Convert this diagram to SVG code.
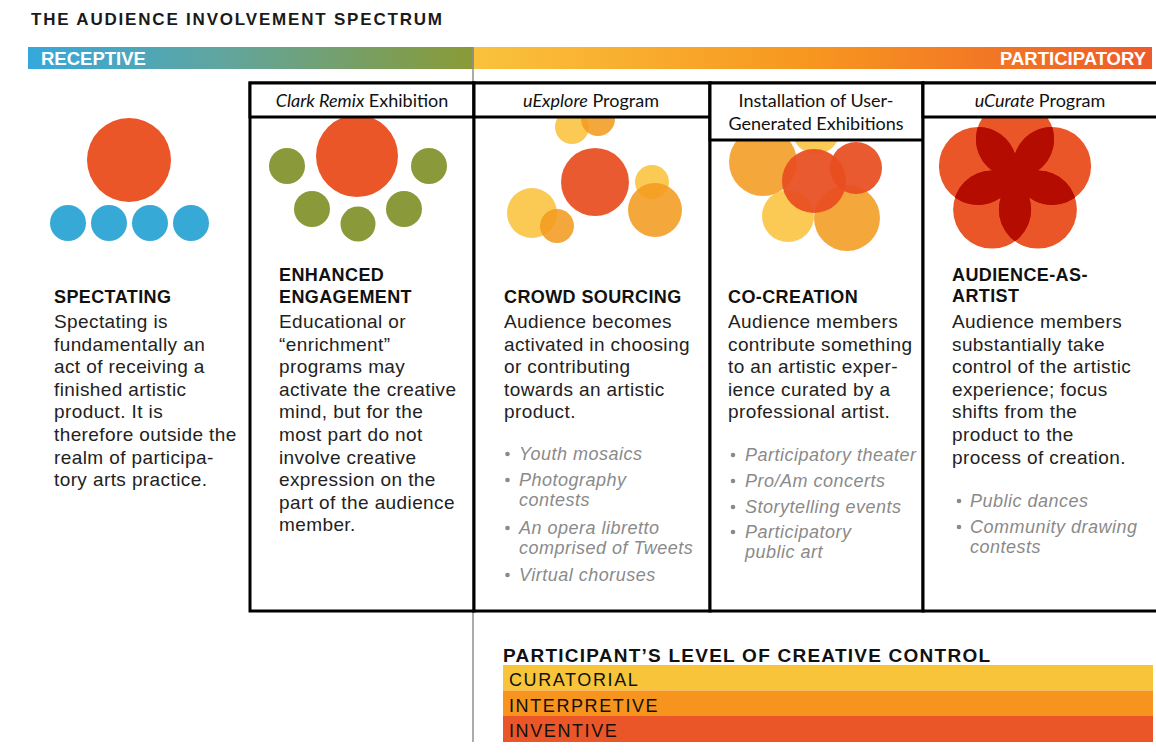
<svg xmlns="http://www.w3.org/2000/svg" width="1156" height="755" viewBox="0 0 1156 755">
<style>
.box{fill:#fff;stroke:#000;stroke-width:3}
.hdr{font-family:Lato,"Open Sans","Liberation Sans",sans-serif;font-size:18px;fill:#111;text-anchor:middle}
.h{font-family:"Liberation Sans",Arial,sans-serif;font-size:18px;font-weight:bold;fill:#111;letter-spacing:0.4px}
.b{font-family:"Liberation Sans",Arial,sans-serif;font-size:19px;fill:#222;letter-spacing:0.4px}
.bl{font-family:"Liberation Sans",Arial,sans-serif;font-size:18px;font-style:italic;fill:#8a8a8a;letter-spacing:0.5px}
.dot{fill:#8a8a8a}
.bar{font-family:"Liberation Sans",Arial,sans-serif;font-size:18.5px;font-weight:bold;fill:#fff}
.lvl{font-family:"Liberation Sans",Arial,sans-serif;font-size:18px;fill:#111;letter-spacing:1.6px}
.y{fill:#F9C33D;opacity:0.88}
.o{fill:#F29B20;opacity:0.88}
.r{fill:#E84E20;opacity:0.93}
</style>
<defs>
<linearGradient id="gL" x1="0" y1="0" x2="1" y2="0">
<stop offset="0" stop-color="#35A8DC"/>
<stop offset="0.45" stop-color="#62A59C"/>
<stop offset="1" stop-color="#8A9A35"/>
</linearGradient>
<linearGradient id="gR" x1="0" y1="0" x2="1" y2="0">
<stop offset="0" stop-color="#FAC23C"/>
<stop offset="0.5" stop-color="#F7961F"/>
<stop offset="1" stop-color="#EE5A2A"/>
</linearGradient>
<circle id="f0" cx="1015" cy="139" r="39"/>
<circle id="f1" cx="1052.1" cy="166" r="39"/>
<circle id="f2" cx="1037.9" cy="209.6" r="39"/>
<circle id="f3" cx="992.1" cy="209.6" r="39"/>
<circle id="f4" cx="977.9" cy="166" r="39"/>
<clipPath id="c0"><use href="#f1"/><use href="#f2"/><use href="#f3"/><use href="#f4"/></clipPath>
<clipPath id="c1"><use href="#f0"/><use href="#f2"/><use href="#f3"/><use href="#f4"/></clipPath>
<clipPath id="c2"><use href="#f0"/><use href="#f1"/><use href="#f3"/><use href="#f4"/></clipPath>
<clipPath id="c3"><use href="#f0"/><use href="#f1"/><use href="#f2"/><use href="#f4"/></clipPath>
<clipPath id="c4"><use href="#f0"/><use href="#f1"/><use href="#f2"/><use href="#f3"/></clipPath>
</defs>
<rect width="1156" height="755" fill="#fff"/>

<g id="title">
<text x="31" y="25" font-family="Liberation Sans, Arial, sans-serif" font-size="17" font-weight="bold" fill="#1a1a1a" textLength="411" lengthAdjust="spacing">THE AUDIENCE INVOLVEMENT SPECTRUM</text>
</g>

<g id="spectrum-bar">
<rect x="28" y="47" width="446" height="22" fill="url(#gL)"/>
<rect x="474" y="47" width="678" height="22" fill="url(#gR)"/>
<text class="bar" x="41" y="65">RECEPTIVE</text>
<text class="bar" x="1146" y="65" text-anchor="end">PARTICIPATORY</text>
</g>

<g id="connectors">
<line x1="473" y1="47" x2="473" y2="742" stroke="#8f8f8f" stroke-width="1.5"/>
</g>

<g id="spectating">
<circle cx="129" cy="160" r="42" fill="#EB5628"/>
<circle cx="68" cy="223" r="18" fill="#36A9D7"/>
<circle cx="109" cy="223" r="18" fill="#36A9D7"/>
<circle cx="150" cy="223" r="18" fill="#36A9D7"/>
<circle cx="191" cy="223" r="18" fill="#36A9D7"/>
<text class="h" x="54" y="303">SPECTATING</text>
<text class="b" x="54" y="328">Spectating is</text>
<text class="b" x="54" y="350.6">fundamentally an</text>
<text class="b" x="54" y="373.2">act of receiving a</text>
<text class="b" x="54" y="395.8">finished artistic</text>
<text class="b" x="54" y="418.4">product. It is</text>
<text class="b" x="54" y="441">therefore outside the</text>
<text class="b" x="54" y="463.6">realm of participa-</text>
<text class="b" x="54" y="486.2">tory arts practice.</text>
</g>

<g id="enhanced-engagement">
<rect class="box" x="250" y="83" width="224" height="528"/>
<circle cx="357" cy="156" r="41" fill="#EB5628"/>
<circle cx="287" cy="166" r="18" fill="#8A9A3A"/>
<circle cx="429" cy="166" r="18" fill="#8A9A3A"/>
<circle cx="312" cy="209" r="18" fill="#8A9A3A"/>
<circle cx="358" cy="224" r="17.5" fill="#8A9A3A"/>
<circle cx="404" cy="209" r="18" fill="#8A9A3A"/>
<rect class="box" x="250" y="83" width="224" height="34"/>
<text class="hdr" x="362" y="107"><tspan font-style="italic">Clark Remix</tspan> Exhibition</text>
<text class="h" x="279" y="281">ENHANCED</text>
<text class="h" x="279" y="303">ENGAGEMENT</text>
<text class="b" x="279" y="328">Educational or</text>
<text class="b" x="279" y="350.6">“enrichment”</text>
<text class="b" x="279" y="373.2">programs may</text>
<text class="b" x="279" y="395.8">activate the creative</text>
<text class="b" x="279" y="418.4">mind, but for the</text>
<text class="b" x="279" y="441">most part do not</text>
<text class="b" x="279" y="463.6">involve creative</text>
<text class="b" x="279" y="486.2">expression on the</text>
<text class="b" x="279" y="508.8">part of the audience</text>
<text class="b" x="279" y="531.4">member.</text>
</g>

<g id="crowd-sourcing">
<rect class="box" x="474" y="83" width="236" height="528"/>
<circle class="y" cx="572" cy="127" r="17"/>
<circle class="o" cx="598" cy="119" r="17"/>
<circle class="r" cx="595" cy="182" r="34"/>
<circle class="y" cx="652" cy="182" r="17"/>
<circle class="o" cx="655" cy="210" r="27"/>
<circle class="y" cx="532" cy="213" r="25"/>
<circle class="o" cx="557" cy="226" r="17"/>
<rect class="box" x="474" y="83" width="236" height="34"/>
<text class="hdr" x="591" y="107"><tspan font-style="italic">uExplore</tspan> Program</text>
<text class="h" x="504" y="303">CROWD SOURCING</text>
<text class="b" x="504" y="328">Audience becomes</text>
<text class="b" x="504" y="350.6">activated in choosing</text>
<text class="b" x="504" y="373.2">or contributing</text>
<text class="b" x="504" y="395.8">towards an artistic</text>
<text class="b" x="504" y="418.4">product.</text>
<circle class="dot" cx="507.5" cy="454" r="2.3"/>
<text class="bl" x="519" y="460">Youth mosaics</text>
<circle class="dot" cx="507.5" cy="480" r="2.3"/>
<text class="bl" x="519" y="486">Photography</text>
<text class="bl" x="519" y="506">contests</text>
<circle class="dot" cx="507.5" cy="528" r="2.3"/>
<text class="bl" x="519" y="534">An opera libretto</text>
<text class="bl" x="519" y="554">comprised of Tweets</text>
<circle class="dot" cx="507.5" cy="575" r="2.3"/>
<text class="bl" x="519" y="581">Virtual choruses</text>
</g>

<g id="co-creation">
<rect class="box" x="710" y="83" width="213" height="528"/>
<circle class="y" cx="816" cy="130" r="24"/>
<circle class="o" cx="763" cy="162" r="34"/>
<circle class="y" cx="788" cy="216" r="26"/>
<circle class="o" cx="847" cy="218" r="33"/>
<circle class="r" cx="856" cy="168" r="26"/>
<circle class="r" cx="814" cy="181" r="32"/>
<rect class="box" x="710" y="83" width="213" height="57"/>
<text class="hdr" x="816" y="107">Installation of User-</text>
<text class="hdr" x="816" y="130">Generated Exhibitions</text>
<text class="h" x="728" y="303">CO-CREATION</text>
<text class="b" x="728" y="328">Audience members</text>
<text class="b" x="728" y="350.6">contribute something</text>
<text class="b" x="728" y="373.2">to an artistic exper-</text>
<text class="b" x="728" y="395.8">ience curated by a</text>
<text class="b" x="728" y="418.4">professional artist.</text>
<circle class="dot" cx="733" cy="455" r="2.3"/>
<text class="bl" x="745" y="461">Participatory theater</text>
<circle class="dot" cx="733" cy="481" r="2.3"/>
<text class="bl" x="745" y="487">Pro/Am concerts</text>
<circle class="dot" cx="733" cy="507" r="2.3"/>
<text class="bl" x="745" y="513">Storytelling events</text>
<circle class="dot" cx="733" cy="532" r="2.3"/>
<text class="bl" x="745" y="538">Participatory</text>
<text class="bl" x="745" y="558">public art</text>
</g>

<g id="audience-as-artist">
<rect class="box" x="923" y="83" width="250" height="528"/>
<g fill="#EB5628">
<use href="#f0"/><use href="#f1"/><use href="#f2"/><use href="#f3"/><use href="#f4"/>
</g>
<g fill="#B50C02">
<use href="#f0" clip-path="url(#c0)"/>
<use href="#f1" clip-path="url(#c1)"/>
<use href="#f2" clip-path="url(#c2)"/>
<use href="#f3" clip-path="url(#c3)"/>
<use href="#f4" clip-path="url(#c4)"/>
</g>
<rect class="box" x="923" y="83" width="250" height="34"/>
<text class="hdr" x="1040" y="107"><tspan font-style="italic">uCurate</tspan> Program</text>
<text class="h" x="952" y="281">AUDIENCE-AS-</text>
<text class="h" x="952" y="302">ARTIST</text>
<text class="b" x="952" y="328">Audience members</text>
<text class="b" x="952" y="350.6">substantially take</text>
<text class="b" x="952" y="373.2">control of the artistic</text>
<text class="b" x="952" y="395.8">experience; focus</text>
<text class="b" x="952" y="418.4">shifts from the</text>
<text class="b" x="952" y="441">product to the</text>
<text class="b" x="952" y="463.6">process of creation.</text>
<circle class="dot" cx="959" cy="501" r="2.3"/>
<text class="bl" x="970" y="507">Public dances</text>
<circle class="dot" cx="959" cy="527" r="2.3"/>
<text class="bl" x="970" y="533">Community drawing</text>
<text class="bl" x="970" y="553">contests</text>
</g>

<g id="creative-control">
<text x="503" y="662" font-family="Liberation Sans, Arial, sans-serif" font-size="19" font-weight="bold" fill="#111" textLength="487" lengthAdjust="spacing">PARTICIPANT’S LEVEL OF CREATIVE CONTROL</text>
<rect x="503" y="665" width="650" height="25.5" fill="#F8C53A"/>
<rect x="503" y="690.5" width="650" height="25.5" fill="#F7941E"/>
<rect x="503" y="716" width="650" height="26" fill="#EB5628"/>
<text class="lvl" x="509" y="686">CURATORIAL</text>
<text class="lvl" x="509" y="711.5">INTERPRETIVE</text>
<text class="lvl" x="509" y="737">INVENTIVE</text>
</g>
</svg>
